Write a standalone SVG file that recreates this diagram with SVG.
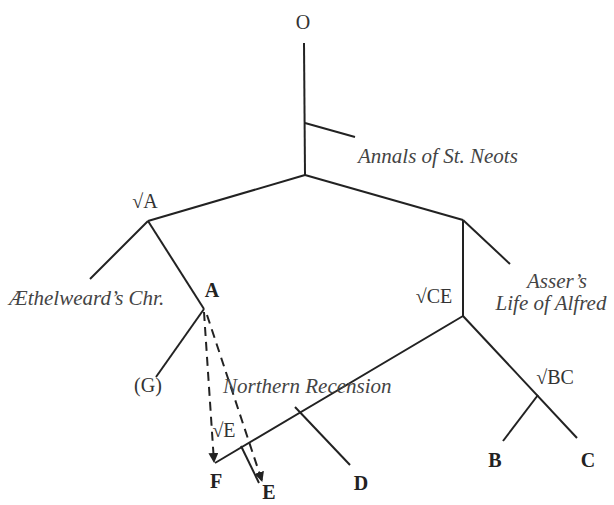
<svg xmlns="http://www.w3.org/2000/svg" width="614" height="505" viewBox="0 0 614 505">
<defs>
<style>
.ln{stroke:#222;stroke-width:2;fill:none;stroke-linecap:butt}
.ds{stroke:#222;stroke-width:2;fill:none;stroke-dasharray:9,6}
.rm{font-family:"Liberation Serif","Times New Roman",serif;font-size:20px;fill:#333}
.it{font-family:"Liberation Serif","Times New Roman",serif;font-size:21px;font-style:italic;fill:#444}
.bd{font-family:"Liberation Serif","Times New Roman",serif;font-size:20px;font-weight:bold;fill:#222}
</style>
<marker id="ah" viewBox="0 0 10 10" refX="9" refY="5" markerWidth="5" markerHeight="5" orient="auto" markerUnits="strokeWidth">
<path d="M0,0 L10,5 L0,10 z" fill="#222"/>
</marker>
</defs>
<rect width="614" height="505" fill="#fff"/>
<g id="connectors">
<line class="ln" x1="304" y1="43" x2="305" y2="175"/>
<line class="ln" x1="305" y1="123" x2="355" y2="137"/>
<line class="ln" x1="305" y1="175" x2="148" y2="221"/>
<line class="ln" x1="305" y1="175" x2="463" y2="220"/>
<line class="ln" x1="148" y1="221" x2="90" y2="279"/>
<line class="ln" x1="148" y1="221" x2="204" y2="309"/>
<line class="ln" x1="204" y1="309" x2="156" y2="377"/>
<line class="ln" x1="463" y1="220" x2="510" y2="264"/>
<line class="ln" x1="463" y1="220" x2="463" y2="316"/>
<line class="ln" x1="463" y1="316" x2="577" y2="438"/>
<line class="ln" x1="538" y1="395" x2="503" y2="441"/>
<line class="ln" x1="463" y1="316" x2="215" y2="463"/>
<line class="ln" x1="295" y1="407" x2="350" y2="465"/>
<line class="ln" x1="241" y1="446" x2="259" y2="483"/>
<line class="ds" x1="204" y1="312" x2="214" y2="462" marker-end="url(#ah)"/>
<line class="ds" x1="207" y1="315" x2="262" y2="481" marker-end="url(#ah)"/>
</g>
<g id="node-O"><text class="rm" x="303" y="29" text-anchor="middle">O</text></g>
<g id="node-annals"><text class="it" x="358" y="163">Annals of St. Neots</text></g>
<g id="node-rootA"><text class="rm" x="145" y="208" text-anchor="middle">√A</text></g>
<g id="node-aethelweard"><text class="it" x="9" y="305">Æthelweard’s Chr.</text></g>
<g id="node-A"><text class="bd" x="212" y="297" text-anchor="middle">A</text></g>
<g id="node-G"><text class="rm" x="148" y="392" text-anchor="middle">(G)</text></g>
<g id="node-asser"><text class="it" x="557" y="288" text-anchor="middle">Asser’s</text><text class="it" x="551" y="310" text-anchor="middle">Life of Alfred</text></g>
<g id="node-rootCE"><text class="rm" x="434" y="303" text-anchor="middle">√CE</text></g>
<g id="node-northern"><text class="it" x="223" y="393">Northern Recension</text></g>
<g id="node-rootE"><text class="rm" x="224" y="437" text-anchor="middle">√E</text></g>
<g id="node-rootBC"><text class="rm" x="555" y="384" text-anchor="middle">√BC</text></g>
<g id="node-F"><text class="bd" x="216" y="488" text-anchor="middle">F</text></g>
<g id="node-E"><text class="bd" x="269" y="499" text-anchor="middle">E</text></g>
<g id="node-D"><text class="bd" x="361" y="490" text-anchor="middle">D</text></g>
<g id="node-B"><text class="bd" x="495" y="467" text-anchor="middle">B</text></g>
<g id="node-C"><text class="bd" x="588" y="467" text-anchor="middle">C</text></g>
</svg>
